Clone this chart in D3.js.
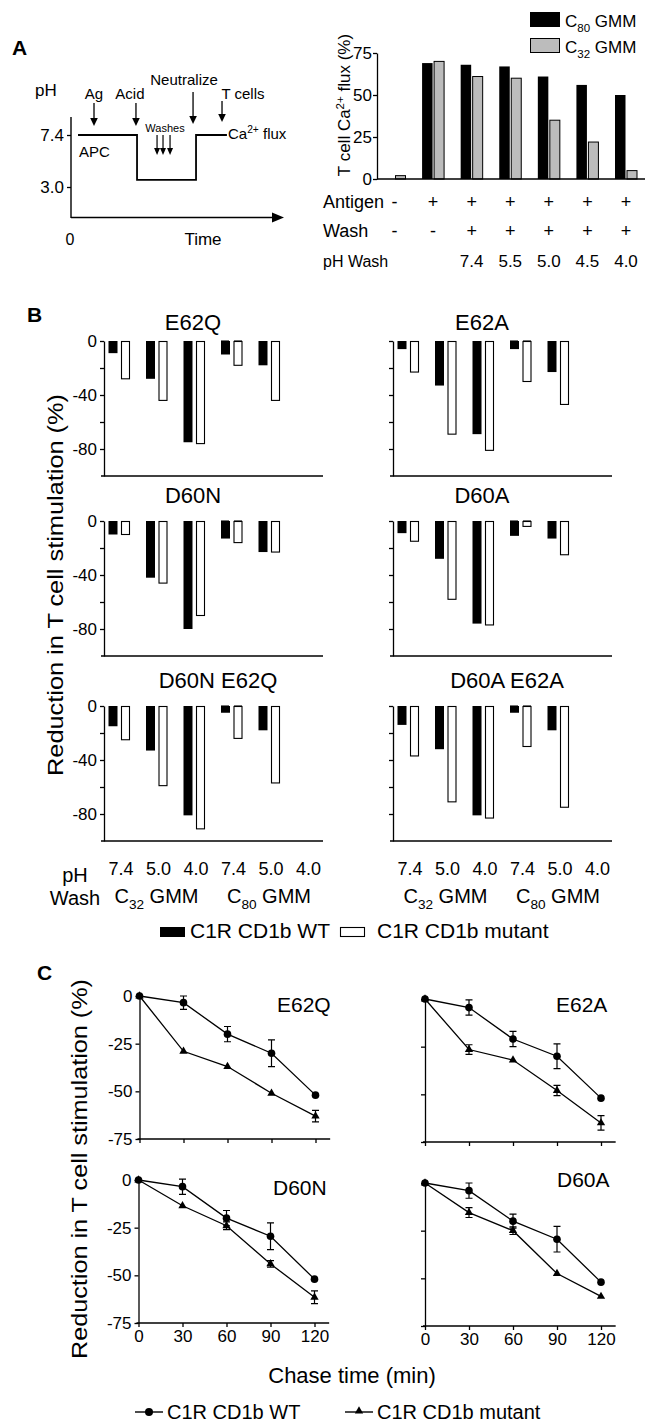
<!DOCTYPE html>
<html lang="en">
<head>
<meta charset="UTF-8" />
<title>CD1b acid wash and chase</title>
<style>
  body { margin: 0; background: #fff; }
  svg { display: block; font-family: "Liberation Sans", Arial, Helvetica, sans-serif; }
</style>
</head>
<body>
<script src="https://cdn.jsdelivr.net/npm/d3@7/dist/d3.min.js"></script>
<script>

// ---------- data ----------

// panel A, schematic (arbitrary time units 0-100)
var schemeTime = [3.3, 31, 31, 58.7, 58.7, 73.2];
var schemePH = [7.4, 7.4, 3.6, 3.6, 7.4, 7.4];
var schemePhTicks = [7.4, 3.0];
var schemeEvents = ["Ag", "Acid", "Neutralize", "T cells"];
var schemeEventTimes = [10.8, 30.5, 57.3, 70.9];
var washTimes = [40.4, 43.2, 46.5];

// panel A, calcium flux bars
var c80Flux = [0, 69, 68, 67, 61, 56, 50];
var c32Flux = [2, 70, 61, 60, 35, 22, 5];
var fluxTicks = [0, 25, 50, 75];
var antigenRow = ["-", "+", "+", "+", "+", "+", "+"];
var washRow = ["-", "-", "+", "+", "+", "+", "+"];
var phWashRow = ["", "", "7.4", "5.5", "5.0", "4.5", "4.0"];

// panel B, reduction (%) per wash: C32 7.4/5.0/4.0 then C80 7.4/5.0/4.0 (null = not done)
var bPhLabels = ["7.4", "5.0", "4.0", "7.4", "5.0", "4.0"];
var bTicks = [0, -20, -40, -60, -80];
var bTickLabels = [0, -40, -80];
var bNames = ["E62Q", "E62A", "D60N", "D60A", "D60N E62Q", "D60A E62A"];
var e62qWT = [-9, -28, -75, null, -10, -18];
var e62qMut = [-28, -44, -76, null, -18, -44];
var e62aWT = [-6, -33, -69, null, -6, -23];
var e62aMut = [-23, -69, -81, null, -30, -47];
var d60nWT = [-10, -42, -80, null, -13, -23];
var d60nMut = [-10, -46, -70, null, -16, -23];
var d60aWT = [-9, -28, -76, null, -11, -13];
var d60aMut = [-15, -58, -77, null, -4, -25];
var d60nE62qWT = [-15, -33, -81, null, -5, -18];
var d60nE62qMut = [-25, -59, -91, null, -24, -57];
var d60aE62aWT = [-14, -32, -81, null, -5, -18];
var d60aE62aMut = [-37, -71, -83, null, -30, -75];

// panel C, chase
var chaseTimes = [0, 30, 60, 90, 120];
var cTicks = [0, -25, -50, -75];
var cNames = ["E62Q", "E62A", "D60N", "D60A"];
var e62qWtChase = [0, -3.5, -20, -30, -52];
var e62qWtErr = [0, 3.5, 4, 7, 0];
var e62qMutChase = [0, -29, -37, -51, -63];
var e62qMutErr = [0, 0, 0, 0, 3];
var e62aWtChase = [0, -4.5, -21, -30, -52];
var e62aWtErr = [0, 4, 4, 6.5, 0];
var e62aMutChase = [0, -26.5, -32, -48, -65];
var e62aMutErr = [0, 2.5, 0, 2.7, 3.8];
var d60nWtChase = [0, -3.5, -20, -29.5, -52];
var d60nWtErr = [0, 4, 4, 7, 0];
var d60nMutChase = [0, -13.5, -24, -44, -61.5];
var d60nMutErr = [0, 0, 2, 1.7, 3.3];
var d60aWtChase = [0, -4, -20, -29.5, -52];
var d60aWtErr = [0, 4, 3.7, 6.7, 0];
var d60aMutChase = [0, -15.5, -25, -47.5, -59.5];
var d60aMutErr = [0, 2.6, 2, 0, 0];

// ---------- helpers ----------

var svg = d3.select("body").append("svg")
    .attr("width", 646)
    .attr("height", 1423);

svg.append("rect").attr("width", 646).attr("height", 1423).attr("fill", "#fff");

// text with sub / superscript parts
function richText(parent, x, y, parts, size, anchor) {
  var t = parent.append("text")
      .attr("x", x).attr("y", y)
      .attr("font-size", size)
      .attr("text-anchor", anchor || "start");
  var shift = 0;
  parts.forEach(function(p) {
    var target = p.sub ? size * 0.28 : (p.sup ? -size * 0.38 : 0);
    t.append("tspan")
      .attr("dy", target - shift)
      .attr("font-size", (p.sub || p.sup) ? size * 0.68 : size)
      .text(p.t);
    shift = target;
  });
  return t;
}

function styleAxis(g, size) {
  g.attr("font-family", null).attr("font-size", size);
  g.selectAll("line, path").attr("stroke", "#000").attr("stroke-width", 1.3);
  g.selectAll("text").attr("fill", "#000");
}

function arrow(g, x, y1, y2, hw, hl, sw) {
  g.append("line")
    .attr("x1", x).attr("x2", x)
    .attr("y1", y1).attr("y2", y2 - hl + 1)
    .attr("stroke", "#000").attr("stroke-width", sw);
  g.append("path")
    .attr("d", "M" + (x - hw) + "," + (y2 - hl) + "L" + (x + hw) + "," + (y2 - hl) + "L" + x + "," + y2 + "Z")
    .attr("fill", "#000");
}

function panelLetter(txt, x, y) {
  svg.append("text").attr("x", x).attr("y", y)
    .attr("font-size", 21).attr("font-weight", "bold").text(txt);
}

// ---------- panel A : schematic ----------

panelLetter("A", 12, 55);

var gS = svg.append("g");
var xS = d3.scaleLinear().domain([0, 100]).range([71, 284]);
var yS = d3.scaleLinear().domain([3.0, 7.4]).range([187, 135]);

gS.append("line").attr("x1", 71).attr("x2", 71).attr("y1", 117).attr("y2", 218)
  .attr("stroke", "#000").attr("stroke-width", 1.4);
gS.append("line").attr("x1", 71).attr("x2", 274).attr("y1", 217.5).attr("y2", 217.5)
  .attr("stroke", "#000").attr("stroke-width", 1.4);
gS.append("path").attr("d", "M272,212.5L284,217.5L272,222.5Z").attr("fill", "#000");

gS.append("g")
  .attr("transform", "translate(71,0)")
  .call(d3.axisLeft(yS).tickValues(schemePhTicks).tickFormat(d3.format(".1f")).tickSize(4).tickPadding(3))
  .call(function(g) { g.select(".domain").remove(); styleAxis(g, 17); });

gS.append("path")
  .datum(d3.zip(schemeTime, schemePH))
  .attr("d", d3.line().x(function(d) { return xS(d[0]); }).y(function(d) { return yS(d[1]); }))
  .attr("fill", "none").attr("stroke", "#000").attr("stroke-width", 1.8);

gS.append("text").attr("x", 35).attr("y", 96).attr("font-size", 17).text("pH");
gS.append("text").attr("x", 70).attr("y", 245).attr("font-size", 16).attr("text-anchor", "middle").text("0");
gS.append("text").attr("x", 203).attr("y", 245).attr("font-size", 17).attr("text-anchor", "middle").text("Time");
gS.append("text").attr("x", 79).attr("y", 157).attr("font-size", 15).text("APC");
richText(gS, 228, 139, [{t: "Ca"}, {t: "2+", sup: true}, {t: " flux"}], 15);

// event arrows (label offset, label baseline, arrow start/end)
var eventLayout = [
  {dx: 0, ty: 99, y1: 103, y2: 126},
  {dx: -6, ty: 99, y1: 103, y2: 126},
  {dx: -9, ty: 85, y1: 92, y2: 124},
  {dx: 21, ty: 99, y1: 101, y2: 122}
];
schemeEvents.forEach(function(name, i) {
  var x = xS(schemeEventTimes[i]);
  var L = eventLayout[i];
  gS.append("text").attr("x", x + L.dx).attr("y", L.ty)
    .attr("font-size", 15).attr("text-anchor", "middle").text(name);
  arrow(gS, x, L.y1, L.y2, 3.8, 8, 1.3);
});
gS.append("text").attr("x", 165).attr("y", 132).attr("font-size", 11)
  .attr("text-anchor", "middle").text("Washes");
washTimes.forEach(function(t) { arrow(gS, xS(t), 135, 155, 3, 7, 1.2); });

// ---------- panel A : calcium flux bars ----------

var gA = svg.append("g");
var xA = d3.scalePoint().domain(d3.range(c80Flux.length)).range([394.5, 626]);
var yA = d3.scaleLinear().domain([0, 75]).range([179, 53]);

gA.selectAll(".c80").data(c80Flux).join("rect")
  .attr("x", function(d, i) { return xA(i) - 11; })
  .attr("y", function(d) { return yA(d); })
  .attr("width", 10.5)
  .attr("height", function(d) { return yA(0) - yA(d); })
  .attr("fill", "#000");

gA.selectAll(".c32").data(c32Flux).join("rect")
  .attr("x", function(d, i) { return xA(i) + 1; })
  .attr("y", function(d) { return yA(d); })
  .attr("width", 10)
  .attr("height", function(d) { return yA(0) - yA(d); })
  .attr("fill", "#bcbcbc").attr("stroke", "#000").attr("stroke-width", 1);

gA.append("g")
  .attr("transform", "translate(377,0)")
  .call(d3.axisLeft(yA).tickValues(fluxTicks).tickSize(4).tickSizeOuter(0).tickPadding(1))
  .call(function(g) { styleAxis(g, 17); });
gA.append("line").attr("x1", 377).attr("x2", 645).attr("y1", 179).attr("y2", 179)
  .attr("stroke", "#000").attr("stroke-width", 1.3);

var yLabA = gA.append("g").attr("transform", "translate(350,105) rotate(-90)");
richText(yLabA, 0, 0, [{t: "T cell Ca"}, {t: "2+", sup: true}, {t: " flux (%)"}], 17, "middle");

[["Antigen", antigenRow, 208], ["Wash", washRow, 237], ["pH Wash", phWashRow, 267]].forEach(function(r) {
  gA.append("text").attr("x", 323).attr("y", r[2]).attr("font-size", r[0] === "pH Wash" ? 16 : 18).text(r[0]);
  gA.selectAll(null).data(r[1]).join("text")
    .attr("x", function(d, i) { return xA(i); })
    .attr("y", r[2])
    .attr("font-size", r[0] === "pH Wash" ? 17 : 18)
    .attr("text-anchor", "middle")
    .text(function(d) { return d; });
});

// legend
gA.append("rect").attr("x", 530).attr("y", 12).attr("width", 30).attr("height", 15).attr("fill", "#000");
richText(gA, 565, 27, [{t: "C"}, {t: "80", sub: true}, {t: " GMM"}], 17);
gA.append("rect").attr("x", 530.5).attr("y", 38.5).attr("width", 29).attr("height", 14)
  .attr("fill", "#bcbcbc").attr("stroke", "#000");
richText(gA, 565, 53, [{t: "C"}, {t: "32", sub: true}, {t: " GMM"}], 17);

// ---------- panel B ----------

panelLetter("B", 27, 322);

var bWT = [e62qWT, e62aWT, d60nWT, d60aWT, d60nE62qWT, d60aE62aWT];
var bMut = [e62qMut, e62aMut, d60nMut, d60aMut, d60nE62qMut, d60aE62aMut];
var bCols = [104, 393];
var bRows = [341, 521, 706];
var bTitleY = [330, 503, 688];

function drawReduction(k) {
  var x0 = bCols[k % 2], row = Math.floor(k / 2), y0 = bRows[row];
  var g = svg.append("g");
  var xB = d3.scalePoint().domain(d3.range(bPhLabels.length)).range([x0 + 15, x0 + 202.5]);
  var yB = d3.scaleLinear().domain([0, -100]).range([y0, y0 + 135]);

  g.selectAll(".wt").data(bWT[k]).join("rect")
    .filter(function(d) { return d !== null; })
    .attr("x", function(d, i) { return xB(i) - 10.5; })
    .attr("y", yB(0))
    .attr("width", 9)
    .attr("height", function(d) { return yB(d) - yB(0); })
    .attr("fill", "#000");

  g.selectAll(".mut").data(bMut[k]).join("rect")
    .filter(function(d) { return d !== null; })
    .attr("x", function(d, i) { return xB(i) + 2.5; })
    .attr("y", yB(0) + 0.5)
    .attr("width", 8)
    .attr("height", function(d) { return yB(d) - yB(0) - 0.5; })
    .attr("fill", "#fff").attr("stroke", "#000").attr("stroke-width", 1.1);

  // groups not tested: short dashes on the zero line
  bWT[k].forEach(function(d, i) {
    if (d === null) {
      [[-10.5, -2.5], [2.5, 10.5]].forEach(function(s) {
        g.append("line").attr("x1", xB(i) + s[0]).attr("x2", xB(i) + s[1])
          .attr("y1", yB(0)).attr("y2", yB(0))
          .attr("stroke", "#000").attr("stroke-width", 1.1);
      });
    }
  });

  var showLabels = (k % 2 === 0);
  g.append("g")
    .attr("transform", "translate(" + x0 + ",0)")
    .call(d3.axisLeft(yB).tickValues(bTicks).tickSize(4).tickSizeOuter(0).tickPadding(3)
      .tickFormat(function(d) { return showLabels && bTickLabels.indexOf(d) >= 0 ? String(d) : ""; }))
    .call(function(a) { styleAxis(a, 17); });
  g.append("line").attr("x1", x0 - 3).attr("x2", x0 + 219).attr("y1", yB(-100)).attr("y2", yB(-100))
    .attr("stroke", "#000").attr("stroke-width", 1.3);

  var single = bNames[k].indexOf(" ") < 0;
  g.append("text").attr("x", x0 + (single ? 89 : 114)).attr("y", bTitleY[row])
    .attr("font-size", 22).attr("text-anchor", "middle").text(bNames[k]);

  if (row === 2) {
    g.selectAll(null).data(bPhLabels).join("text")
      .attr("x", function(d, i) { return xB(i) + 2; })
      .attr("y", 875)
      .attr("font-size", 18).attr("text-anchor", "middle")
      .text(function(d) { return d; });
    richText(g, xB(1), 903, [{t: "C"}, {t: "32", sub: true}, {t: " GMM"}], 20, "middle");
    richText(g, xB(4), 903, [{t: "C"}, {t: "80", sub: true}, {t: " GMM"}], 20, "middle");
  }
}
d3.range(bNames.length).forEach(drawReduction);

svg.append("text").attr("x", 75).attr("y", 882).attr("font-size", 20).attr("text-anchor", "middle").text("pH");
svg.append("text").attr("x", 75).attr("y", 905).attr("font-size", 20).attr("text-anchor", "middle").text("Wash");

svg.append("text")
  .attr("transform", "translate(63,585) rotate(-90)")
  .attr("text-anchor", "middle").attr("font-size", 22)
  .attr("textLength", 382).attr("lengthAdjust", "spacingAndGlyphs")
  .text("Reduction in T cell stimulation (%)");

// legend B
svg.append("rect").attr("x", 160).attr("y", 927).attr("width", 25).attr("height", 10).attr("fill", "#000");
svg.append("text").attr("x", 190).attr("y", 938).attr("font-size", 21).text("C1R CD1b WT");
svg.append("rect").attr("x", 340.5).attr("y", 927.5).attr("width", 24).attr("height", 9)
  .attr("fill", "#fff").attr("stroke", "#000").attr("stroke-width", 1.1);
svg.append("text").attr("x", 377).attr("y", 938).attr("font-size", 21).text("C1R CD1b mutant");

// ---------- panel C ----------

panelLetter("C", 37, 980);

var cWT = [e62qWtChase, e62aWtChase, d60nWtChase, d60aWtChase];
var cWTErr = [e62qWtErr, e62aWtErr, d60nWtErr, d60aWtErr];
var cMut = [e62qMutChase, e62aMutChase, d60nMutChase, d60aMutChase];
var cMutErr = [e62qMutErr, e62aMutErr, d60nMutErr, d60aMutErr];
var cLayout = [
  {x0: 139.5, y0: 996, tx: 277, ty: 1012},
  {x0: 425, y0: 999, tx: 556, ty: 1012},
  {x0: 138.5, y0: 1180, tx: 273, ty: 1195},
  {x0: 425, y0: 1183, tx: 557, ty: 1187}
];
var triangle = d3.symbol().type(d3.symbolTriangle).size(30);

function drawChase(k) {
  var L = cLayout[k];
  var g = svg.append("g");
  var xC = d3.scaleLinear().domain([0, 120]).range([L.x0, L.x0 + 176]);
  var yC = d3.scaleLinear().domain([0, -75]).range([L.y0, L.y0 + 143]);
  var line = d3.line().x(function(d) { return xC(d[0]); }).y(function(d) { return yC(d[1]); });

  g.append("g")
    .attr("transform", "translate(" + L.x0 + ",0)")
    .call(d3.axisLeft(yC).tickValues(cTicks).tickSize(4).tickSizeOuter(0).tickPadding(3)
      .tickFormat(function(d) { return k % 2 === 0 ? String(d) : ""; }))
    .call(function(a) { styleAxis(a, 17); });

  g.append("g")
    .attr("transform", "translate(0," + yC(-75) + ")")
    .call(d3.axisBottom(xC).tickValues(chaseTimes).tickSize(4).tickPadding(3)
      .tickFormat(function(d) { return k >= 2 ? String(d) : ""; }))
    .call(function(a) { a.select(".domain").remove(); styleAxis(a, 17); });
  g.append("line").attr("x1", L.x0 - 2).attr("x2", xC(130)).attr("y1", yC(-75)).attr("y2", yC(-75))
    .attr("stroke", "#000").attr("stroke-width", 1.3);

  [[cWT[k], cWTErr[k]], [cMut[k], cMutErr[k]]].forEach(function(s) {
    var pts = d3.zip(chaseTimes, s[0]);
    g.append("path").datum(pts).attr("d", line)
      .attr("fill", "none").attr("stroke", "#000").attr("stroke-width", 1.3);
    pts.forEach(function(p, i) {
      var e = s[1][i];
      if (e > 0) {
        var x = xC(p[0]), ya = yC(p[1] + e), yb = yC(p[1] - e);
        g.append("path")
          .attr("d", "M" + x + "," + ya + "V" + yb + "M" + (x - 3.5) + "," + ya + "H" + (x + 3.5) + "M" + (x - 3.5) + "," + yb + "H" + (x + 3.5))
          .attr("fill", "none").attr("stroke", "#000").attr("stroke-width", 1.2);
      }
    });
  });

  g.selectAll(".wt").data(d3.zip(chaseTimes, cWT[k])).join("circle")
    .attr("cx", function(d) { return xC(d[0]); })
    .attr("cy", function(d) { return yC(d[1]); })
    .attr("r", 3.8).attr("fill", "#000");
  g.selectAll(".mut").data(d3.zip(chaseTimes, cMut[k])).join("path")
    .attr("transform", function(d) { return "translate(" + xC(d[0]) + "," + yC(d[1]) + ")"; })
    .attr("d", triangle).attr("fill", "#000");

  g.append("text").attr("x", L.tx).attr("y", L.ty).attr("font-size", 21).text(cNames[k]);
}
d3.range(cNames.length).forEach(drawChase);

svg.append("text")
  .attr("transform", "translate(87,1169) rotate(-90)")
  .attr("text-anchor", "middle").attr("font-size", 22)
  .attr("textLength", 380).attr("lengthAdjust", "spacingAndGlyphs")
  .text("Reduction in T cell stimulation (%)");

svg.append("text").attr("x", 352).attr("y", 1383).attr("font-size", 22)
  .attr("text-anchor", "middle").text("Chase time (min)");

// legend C
svg.append("line").attr("x1", 135).attr("x2", 163).attr("y1", 1412).attr("y2", 1412)
  .attr("stroke", "#000").attr("stroke-width", 1.4);
svg.append("circle").attr("cx", 149).attr("cy", 1412).attr("r", 4).attr("fill", "#000");
svg.append("text").attr("x", 167).attr("y", 1419).attr("font-size", 20).text("C1R CD1b WT");
svg.append("line").attr("x1", 345).attr("x2", 373).attr("y1", 1412).attr("y2", 1412)
  .attr("stroke", "#000").attr("stroke-width", 1.4);
svg.append("path").attr("transform", "translate(359,1411)").attr("d", triangle).attr("fill", "#000");
svg.append("text").attr("x", 377).attr("y", 1419).attr("font-size", 20).text("C1R CD1b mutant");

</script>
</body>
</html>
